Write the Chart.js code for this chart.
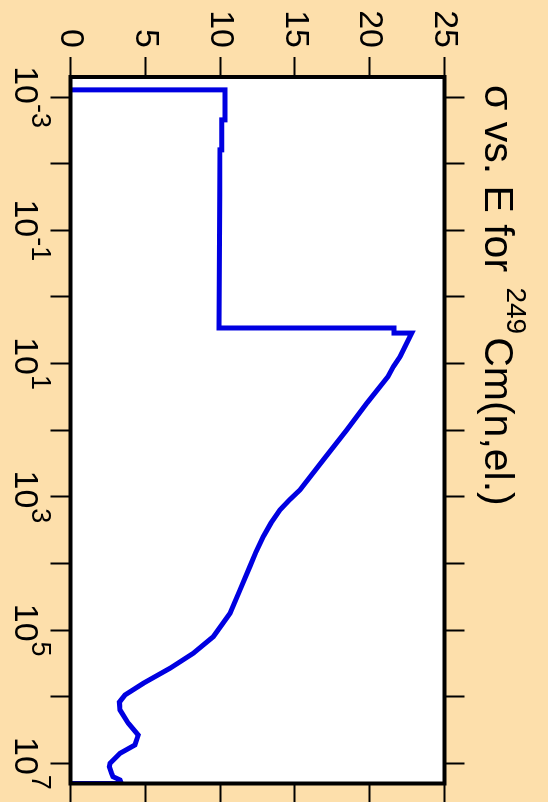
<!DOCTYPE html>
<html>
<head>
<meta charset="utf-8">
<script src="https://cdn.jsdelivr.net/npm/chart.js@4.4.0/dist/chart.umd.min.js"></script>
<style>
  html, body { margin: 0; padding: 0; background: #fddfab; overflow: hidden; }
  /* la gráfica se dibuja apaisada y se gira 90 grados */
  #caja { position: absolute; left: 0; top: 0; width: 802px; height: 548px;
          transform-origin: 0 0; transform: translate(548px, 0) rotate(90deg); }
</style>
</head>
<body>
<div id="caja"><canvas id="grafico" width="802" height="548"></canvas></div>
<script>
// Energía (eV) y sección eficaz elástica (b)
const energia = [7.8e-4, 7.8e-4, 2.2e-3, 2.2e-3, 6.2e-3, 6.2e-3, 0.14, 2.92, 2.92, 3.48, 3.48,
  4.43, 7.87, 11.1, 15.7, 39.4, 99.1, 279, 787, 1110, 1570, 2470, 3950, 6700, 1.11e4, 2.49e4, 5.58e4, 1.25e5,
  2.22e5, 3.73e5, 6.27e5, 9.4e5, 1.2e6, 1.58e6, 2.49e6, 3.74e6, 5.28e6, 7.05e6, 9.95e6,
  1.12e7, 1.41e7, 1.58e7, 1.77e7, 2.0e7, 2.0e7];
const seccion = [0, 10.33, 10.33, 10.11, 10.11, 9.99, 9.96, 9.93, 21.62, 21.62, 22.81,
  22.58, 22.03, 21.58, 21.22, 19.80, 18.46, 16.90, 15.34, 14.64, 14.00, 13.40, 12.89, 12.40, 11.99, 11.33, 10.66, 9.55,
  8.21, 6.65, 4.87, 3.64, 3.27, 3.31, 3.86, 4.53, 4.31, 3.31, 2.64,
  2.60, 2.75, 2.84, 3.31, 3.40, 0];

const ticksSigma = [0, 5, 10, 15, 20, 25];
const exponentes = [-3, -2, -1, 0, 1, 2, 3, 4, 5, 6, 7];
const exponentesEtiqueta = [-3, -1, 1, 3, 5, 7];

const FUENTE = '"Liberation Sans", Arial, sans-serif';

const rejilla = { drawOnChartArea: false, drawTicks: true, tickLength: 20, tickWidth: 2, tickColor: '#000' };
const decadas = (scale) => { scale.ticks = exponentes.map(e => ({ value: Math.pow(10, e) })); };
const pasosSigma = (scale) => { scale.ticks = ticksSigma.map(v => ({ value: v })); };

// fondo blanco, marco negro, etiquetas 10^n y título
const marco = {
  id: 'marco',
  beforeDraw(chart) {
    const { ctx, chartArea: a } = chart;
    ctx.save();
    ctx.fillStyle = '#fff';
    ctx.fillRect(a.left, a.top, a.right - a.left, a.bottom - a.top);
    ctx.restore();
  },
  afterDatasetsDraw(chart) {
    const { ctx, chartArea: a } = chart;
    ctx.save();
    ctx.strokeStyle = '#000';
    ctx.lineWidth = 4;
    ctx.strokeRect(a.left, a.top, a.right - a.left, a.bottom - a.top);
    ctx.restore();
  },
  afterDraw(chart) {
    const { ctx, chartArea: a } = chart;
    const x = chart.scales.x;
    ctx.save();
    ctx.fillStyle = '#000';
    ctx.textBaseline = 'alphabetic';
    ctx.textAlign = 'left';
    exponentesEtiqueta.forEach(e => {
      const px = x.getPixelForValue(Math.pow(10, e));
      const base = '10', sup = String(e);
      ctx.font = '34px ' + FUENTE;
      const wb = ctx.measureText(base).width;
      ctx.font = '27px ' + FUENTE;
      const ws = ctx.measureText(sup).width;
      const x0 = px - (wb + ws) / 2;
      ctx.font = '34px ' + FUENTE;
      ctx.fillText(base, x0, a.bottom + 55.5);
      ctx.font = '27px ' + FUENTE;
      ctx.fillText(sup, x0 + wb, a.bottom + 38);
    });

    // título: σ vs. E for ²⁴⁹Cm(n,el.)
    let tx = a.left + 8;
    const ty = a.top - 40.5;
    ctx.font = '41px ' + FUENTE;
    ctx.fillText('σ vs. E for ', tx, ty);
    tx += ctx.measureText('σ vs. E for ').width + 4;
    ctx.font = '28px ' + FUENTE;
    ctx.fillText('249', tx, ty - 22);
    tx += ctx.measureText('249').width + 3;
    ctx.font = '41px ' + FUENTE;
    ctx.fillText('Cm(n,el.)', tx, ty);
    ctx.restore();
  }
};

new Chart(document.getElementById('grafico'), {
  type: 'line',
  data: {
    datasets: [{
      data: energia.map((e, i) => ({ x: e, y: seccion[i] })),
      borderColor: '#0000e1',
      borderWidth: 5,
      borderJoinStyle: 'miter',
      pointRadius: 0,
      fill: false,
      tension: 0
    }]
  },
  options: {
    responsive: false,
    animation: false,
    layout: { padding: 0 },
    plugins: { legend: { display: false }, tooltip: { enabled: false }, title: { display: false } },
    scales: {
      x: {
        type: 'logarithmic', position: 'bottom', min: 5e-4, max: 2e7,
        afterBuildTicks: decadas,
        afterFit: (s) => { s.height = 70.5; },
        ticks: { display: false },
        grid: rejilla, border: { display: false }
      },
      x2: {
        type: 'logarithmic', position: 'top', axis: 'x', min: 5e-4, max: 2e7,
        afterBuildTicks: decadas,
        afterFit: (s) => { s.height = 103.5; },
        ticks: { display: false },
        grid: rejilla, border: { display: false }
      },
      y: {
        type: 'linear', position: 'left', min: 0, max: 25,
        afterBuildTicks: pasosSigma,
        afterFit: (s) => { s.width = 77; },
        ticks: { color: '#000', padding: 9, font: { size: 34, family: FUENTE } },
        grid: rejilla, border: { display: false }
      },
      y2: {
        type: 'linear', position: 'right', axis: 'y', min: 0, max: 25,
        afterBuildTicks: pasosSigma,
        afterFit: (s) => { s.width = 18.5; },
        ticks: { display: false },
        grid: rejilla, border: { display: false }
      }
    }
  },
  plugins: [marco]
});
</script>
</body>
</html>
